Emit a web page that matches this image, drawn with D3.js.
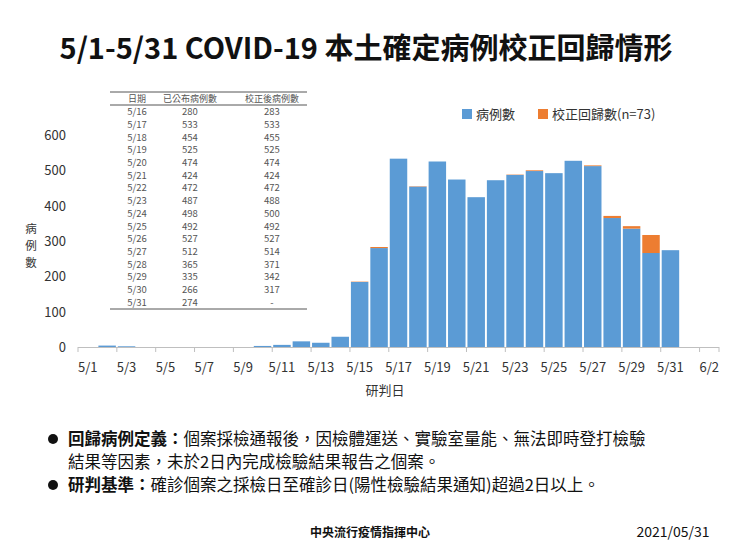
<!DOCTYPE html>
<html><head><meta charset="utf-8">
<script src="https://cdn.jsdelivr.net/npm/d3@7"></script>
<style>body{margin:0;background:#fff;font-family:"Noto Sans CJK TC","Noto Sans",sans-serif}</style>
</head><body><svg id="c" width="740" height="555"></svg>
<script>
const days = ["5/1","5/2","5/3","5/4","5/5","5/6","5/7","5/8","5/9","5/10","5/11","5/12","5/13","5/14","5/15","5/16","5/17","5/18","5/19","5/20","5/21","5/22","5/23","5/24","5/25","5/26","5/27","5/28","5/29","5/30","5/31","6/1","6/2"];
const cases = [0,4,2,0,0,0,0,0,0,3,6,16,12,29,184,280,533,454,525,474,424,472,487,498,492,527,512,365,335,266,274,0,0];
const corrections = [0,0,0,0,0,0,0,0,0,0,0,0,0,0,1,3,0,1,0,0,0,0,1,2,0,0,2,6,7,51,0,0,0];
const tableDates = ["5/16","5/17","5/18","5/19","5/20","5/21","5/22","5/23","5/24","5/25","5/26","5/27","5/28","5/29","5/30","5/31"];
const tablePub = ["280","533","454","525","474","424","472","487","498","492","527","512","365","335","266","274"];
const tableCorr = ["283","533","455","525","474","424","472","488","500","492","527","514","371","342","317","-"];
const yTicks = [0,100,200,300,400,500,600];

const svg = d3.select("#c");
const x = d3.scaleBand().domain(days).range([78,719]).paddingInner(0.1).paddingOuter(0.05);
const y = d3.scaleLinear().domain([0,600]).range([347,135]);
const blue="#5b9bd5", orange="#ed7d31";

svg.append("text").attr("x",366).attr("y",59).attr("text-anchor","middle").attr("font-size",29).attr("font-weight","bold").attr("fill","#111").text("5/1-5/31 COVID-19 本土確定病例校正回歸情形");

svg.selectAll(".yt").data(yTicks).enter().append("text").attr("x",66).attr("y",d=>y(d)+5).attr("text-anchor","end").attr("font-size",13).attr("fill","#333").text(d=>d);
svg.append("line").attr("x1",78).attr("x2",719).attr("y1",347.5).attr("y2",347.5).attr("stroke","#bfbfbf");
days.forEach((d,i)=>{ if(i%2===0){
  const bx = x(d)+x.bandwidth()/2 - x.step()/2;
  svg.append("line").attr("x1",bx).attr("x2",bx).attr("y1",347).attr("y2",352).attr("stroke","#bfbfbf");
  svg.append("text").attr("x",x(d)+x.bandwidth()/2).attr("y",372).attr("text-anchor","middle").attr("font-size",13).attr("fill","#333").text(d);
}});
svg.append("line").attr("x1",719).attr("x2",719).attr("y1",347).attr("y2",352).attr("stroke","#bfbfbf");

svg.selectAll(".b").data(days).enter().append("rect").attr("x",d=>x(d)).attr("width",x.bandwidth())
 .attr("y",(d,i)=>y(cases[i])).attr("height",(d,i)=>y(0)-y(cases[i])).attr("fill",blue);
svg.selectAll(".o").data(days).enter().append("rect").attr("x",d=>x(d)).attr("width",x.bandwidth())
 .attr("y",(d,i)=>y(cases[i]+corrections[i])).attr("height",(d,i)=>y(cases[i])-y(cases[i]+corrections[i])).attr("fill",orange);

["病","例","數"].forEach((c,i)=>svg.append("text").attr("x",31).attr("y",233+i*17).attr("text-anchor","middle").attr("font-size",11.5).attr("fill","#333").text(c));
svg.append("text").attr("x",385).attr("y",395).attr("text-anchor","middle").attr("font-size",13).attr("fill","#333").text("研判日");

svg.append("rect").attr("x",462).attr("y",109).attr("width",10).attr("height",10).attr("fill",blue);
svg.append("text").attr("x",476).attr("y",119).attr("font-size",13).attr("fill","#333").text("病例數");
svg.append("rect").attr("x",538).attr("y",109).attr("width",10).attr("height",10).attr("fill",orange);
svg.append("text").attr("x",552).attr("y",119).attr("font-size",13).attr("fill","#333").text("校正回歸數(n=73)");

const tx=[137,190,272], t0=105, rh=12.7;
[92,105,309].forEach(yy=>svg.append("line").attr("x1",110).attr("x2",307).attr("y1",yy).attr("y2",yy).attr("stroke","#555"));
["日期","已公布病例數","校正後病例數"].forEach((h,i)=>svg.append("text").attr("x",tx[i]).attr("y",102).attr("text-anchor","middle").attr("font-size",9).attr("fill","#555").text(h));
tableDates.forEach((d,r)=>{[d,tablePub[r],tableCorr[r]].forEach((v,i)=>svg.append("text").attr("x",tx[i]).attr("y",t0+rh*(r+1)-2.5).attr("text-anchor","middle").attr("font-size",9.5).attr("fill","#555").text(v));});

function note(yy, bold, rest){ svg.append("circle").attr("cx",53).attr("cy",yy-6).attr("r",5).attr("fill","#111");
  const t=svg.append("text").attr("x",68).attr("y",yy).attr("font-size",16.5).attr("fill","#111");
  t.append("tspan").attr("font-weight","bold").text(bold); t.append("tspan").text(rest);}
note(445,"回歸病例定義：","個案採檢通報後，因檢體運送、實驗室量能、無法即時登打檢驗");
svg.append("text").attr("x",68).attr("y",468).attr("font-size",16.5).attr("fill","#111").text("結果等因素，未於2日內完成檢驗結果報告之個案。");
note(491,"研判基準：","確診個案之採檢日至確診日(陽性檢驗結果通知)超過2日以上。");

svg.append("text").attr("x",370).attr("y",537).attr("text-anchor","middle").attr("font-size",12).attr("font-weight","bold").attr("fill","#111").text("中央流行疫情指揮中心");
svg.append("text").attr("x",673).attr("y",537).attr("text-anchor","middle").attr("font-size",14).attr("fill","#111").text("2021/05/31");
</script></body></html>
